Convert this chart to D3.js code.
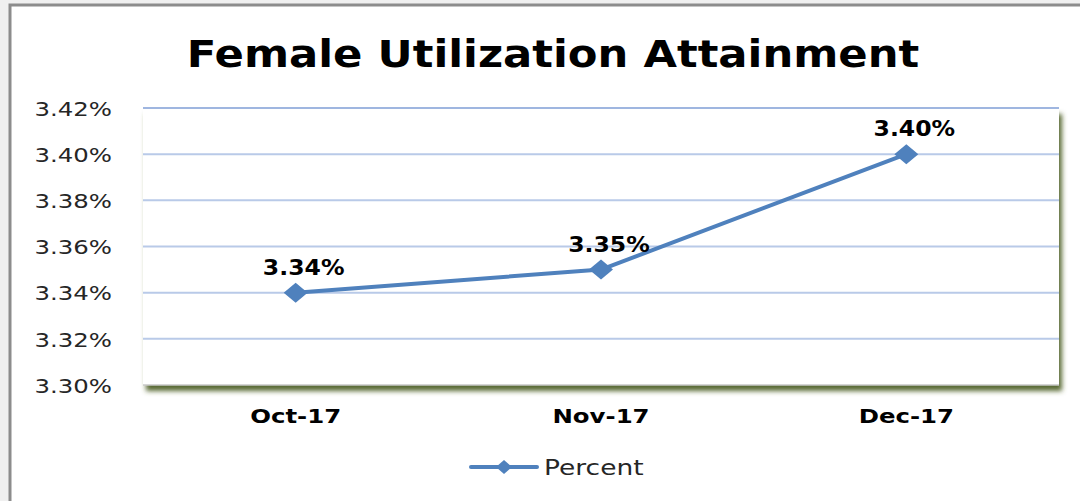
<!DOCTYPE html>
<html>
<head>
<meta charset="utf-8">
<script src="https://cdn.jsdelivr.net/npm/d3@7"></script>
<style>
  html, body { margin: 0; padding: 0; background: #f0f0f0; }
  svg { display: block; }
</style>
</head>
<body>
<div id="chart"></div>
<script>
(function () {
  'use strict';

  // Chart data
  const CATEGORIES = ['Oct-17', 'Nov-17', 'Dec-17'];
  const VALUES = [3.34, 3.35, 3.40];
  const Y_TICKS = [3.30, 3.32, 3.34, 3.36, 3.38, 3.40, 3.42];
  const SERIES_NAME = 'Percent';
  const TITLE = 'Female Utilization Attainment';

  const W = 1080, H = 501;
  const LINE_COLOR = '#4f81bd';
  const GRID_COLOR = '#b9cae8';
  const FONT = '"DejaVu Sans", Verdana, sans-serif';

  const svg = d3.select('#chart').append('svg')
    .attr('width', W).attr('height', H);

  // Stretch text horizontally (the source image is wider than its glyph height suggests)
  function stretch(sel, k) {
    sel.each(function () {
      const len = this.getComputedTextLength();
      d3.select(this).attr('textLength', len * k).attr('lengthAdjust', 'spacingAndGlyphs');
    });
  }

  // Outer frame
  svg.append('rect')
    .attr('x', 10).attr('y', 5).attr('width', W).attr('height', H)
    .attr('fill', '#ffffff').attr('stroke', '#8c8c8c').attr('stroke-width', 3);

  // Title
  svg.append('text')
    .attr('x', 553).attr('y', 67)
    .attr('text-anchor', 'middle')
    .attr('font-family', FONT).attr('font-weight', 'bold').attr('font-size', 37)
    .attr('fill', '#000')
    .text(TITLE)
    .call(stretch, 1.17);

  const margin = { left: 143, right: 1059, top: 108, bottom: 385 };

  const x = d3.scaleBand().domain(CATEGORIES).range([margin.left, margin.right]);
  const y = d3.scaleLinear().domain([3.30, 3.42]).range([margin.bottom, margin.top]);

  // Plot-area shadow
  const defs = svg.append('defs');
  const f = defs.append('filter').attr('id', 'shadow')
    .attr('x', '-5%').attr('y', '-5%').attr('width', '112%').attr('height', '125%');
  f.append('feDropShadow')
    .attr('dx', 3).attr('dy', 6).attr('stdDeviation', 2.5)
    .attr('flood-color', '#4f6228').attr('flood-opacity', 0.95);

  svg.append('rect')
    .attr('x', margin.left).attr('y', margin.top)
    .attr('width', margin.right - margin.left).attr('height', margin.bottom - margin.top)
    .attr('fill', '#ffffff').attr('filter', 'url(#shadow)');

  // Gridlines
  svg.append('g').selectAll('line')
    .data(Y_TICKS.slice(1))
    .join('line')
    .attr('x1', margin.left).attr('x2', margin.right)
    .attr('y1', d => y(d)).attr('y2', d => y(d))
    .attr('stroke', (d, i, n) => i === n.length - 1 ? '#9fb6e0' : GRID_COLOR)
    .attr('stroke-width', 2);

  // X axis line
  svg.append('line')
    .attr('x1', margin.left).attr('x2', margin.right)
    .attr('y1', y(3.30)).attr('y2', y(3.30))
    .attr('stroke', '#c8c8c8').attr('stroke-width', 1.5);

  // Y axis labels
  const yAxis = d3.axisLeft(y).tickValues(Y_TICKS).tickSize(0).tickPadding(0)
    .tickFormat(d => d.toFixed(2) + '%');
  const gy = svg.append('g').attr('transform', 'translate(112,0)').call(yAxis);
  gy.select('.domain').remove();
  gy.selectAll('text')
    .attr('font-family', FONT).attr('font-size', 20).attr('fill', '#262626')
    .attr('dy', '0.36em')
    .call(stretch, 1.22);

  // X axis labels
  const xAxis = d3.axisBottom(x).tickSize(0).tickPadding(0);
  const gx = svg.append('g').attr('transform', 'translate(0,408)').call(xAxis);
  gx.select('.domain').remove();
  gx.selectAll('text')
    .attr('font-family', FONT).attr('font-size', 20).attr('font-weight', 'bold')
    .attr('fill', '#000').attr('dy', '0.75em')
    .call(stretch, 1.22);

  const cx = d => x(d) + x.bandwidth() / 2;

  // Line
  const line = d3.line().x((d, i) => cx(CATEGORIES[i])).y(d => y(d));
  svg.append('path')
    .datum(VALUES)
    .attr('d', line)
    .attr('fill', 'none').attr('stroke', LINE_COLOR).attr('stroke-width', 4)
    .attr('stroke-linejoin', 'round');

  // Diamond markers
  const diamond = (w, h) => `M${-w / 2},0L0,${-h / 2}L${w / 2},0L0,${h / 2}Z`;
  svg.append('g').selectAll('path')
    .data(VALUES)
    .join('path')
    .attr('transform', (d, i) => `translate(${cx(CATEGORIES[i])},${y(d)})`)
    .attr('d', diamond(24, 20))
    .attr('fill', LINE_COLOR);

  // Data labels
  svg.append('g').selectAll('text')
    .data(VALUES)
    .join('text')
    .attr('x', (d, i) => cx(CATEGORIES[i]) + 8)
    .attr('y', d => y(d) - 18)
    .attr('text-anchor', 'middle')
    .attr('font-family', FONT).attr('font-size', 21).attr('font-weight', 'bold')
    .attr('fill', '#000')
    .text(d => d.toFixed(2) + '%')
    .call(stretch, 1.12);

  // Legend
  const lg = svg.append('g').attr('transform', 'translate(471,467)');
  lg.append('line')
    .attr('x1', 0).attr('x2', 66).attr('y1', 0).attr('y2', 0)
    .attr('stroke', LINE_COLOR).attr('stroke-width', 4).attr('stroke-linecap', 'round');
  lg.append('path').attr('transform', 'translate(33,0)')
    .attr('d', diamond(16, 14)).attr('fill', LINE_COLOR);
  lg.append('text')
    .attr('x', 73).attr('y', 0).attr('dy', '0.36em')
    .attr('font-family', FONT).attr('font-size', 21).attr('fill', '#262626')
    .text(SERIES_NAME)
    .call(stretch, 1.26);
})();
</script>
</body>
</html>
